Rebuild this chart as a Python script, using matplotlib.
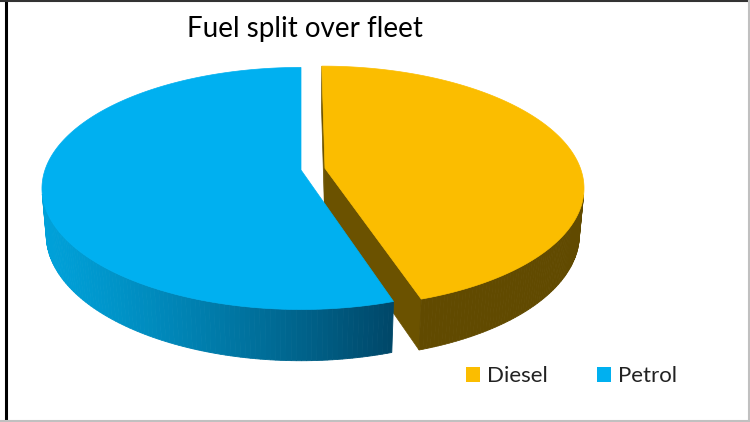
import numpy as np
import matplotlib.pyplot as plt
from matplotlib.patches import Polygon, Rectangle
from matplotlib.lines import Line2D

# chart data
labels = ["Diesel", "Petrol"]
shares = [45, 55]
top_colors = ["#FBBD00", "#00B0F0"]
side_light = [(0.42, 0.32, 0.0), (0.0, 0.63, 0.85)]
side_dark = [(0.38, 0.29, 0.0), (0.0, 0.28, 0.41)]
explode = [0.095, 0.0]

W, H = 750, 422
fig = plt.figure(figsize=(W / 100, H / 100), dpi=100)
ax = fig.add_axes([0, 0, 1, 1])
ax.set_xlim(0, W)
ax.set_ylim(H, 0)
ax.axis("off")

# simple perspective camera for the 3d pie
phi = np.radians(27.5)
D = 5.82
focal = 1490
cx, cy = 301, 170
depth_h = 0.205


def project(x, y, z):
    dy = y + D * np.cos(phi)
    dz = z - D * np.sin(phi)
    depth = dy * np.cos(phi) - dz * np.sin(phi)
    up = dy * np.sin(phi) + dz * np.cos(phi)
    return cx + focal * x / depth, cy - focal * up / depth


cam = np.array([0, -D * np.cos(phi), D * np.sin(phi)])


def facing(p, n):
    return np.dot(p - cam, n) < 0


# angles: start at 12 o'clock, clockwise
fr = np.array(shares) / np.sum(shares)
starts = 90 - 360 * np.concatenate([[0], np.cumsum(fr)[:-1]])
ends = starts - 360 * fr

slices = []
for i in range(len(labels)):
    mid = np.radians((starts[i] + ends[i]) / 2)
    ox, oy = explode[i] * np.cos(mid), explode[i] * np.sin(mid)
    th = np.radians(np.linspace(starts[i], ends[i], 200))
    slices.append((i, ox, oy, th))

# draw exploded slice first, then the rest in front of it
for i, ox, oy, th in sorted(slices, key=lambda s: -explode[s[0]]):
    # radial faces
    for t, sgn in ((th[0], 1), (th[-1], -1)):
        n = np.array([-np.sin(t), np.cos(t), 0]) * sgn
        mid_pt = np.array([ox + 0.5 * np.cos(t), oy + 0.5 * np.sin(t), -depth_h / 2])
        if facing(mid_pt, n):
            pts = [project(ox, oy, 0), project(ox + np.cos(t), oy + np.sin(t), 0),
                   project(ox + np.cos(t), oy + np.sin(t), -depth_h), project(ox, oy, -depth_h)]
            ax.add_patch(Polygon(pts, closed=True, fc=side_light[i], ec=side_light[i], lw=0.5))
    # outer side
    xs_left = project(-1, 0, 0)[0]
    for k in range(len(th) - 1):
        t = (th[k] + th[k + 1]) / 2
        n = np.array([np.cos(t), np.sin(t), 0])
        p = np.array([ox + np.cos(t), oy + np.sin(t), -depth_h / 2])
        if not facing(p, n):
            continue
        pts = [project(ox + np.cos(th[k]), oy + np.sin(th[k]), 0),
               project(ox + np.cos(th[k + 1]), oy + np.sin(th[k + 1]), 0),
               project(ox + np.cos(th[k + 1]), oy + np.sin(th[k + 1]), -depth_h),
               project(ox + np.cos(th[k]), oy + np.sin(th[k]), -depth_h)]
        px = pts[0][0]
        f = np.clip((px - xs_left) / 350, 0, 1) ** 1.2
        c = tuple(a + (b - a) * f for a, b in zip(side_light[i], side_dark[i]))
        ax.add_patch(Polygon(pts, closed=True, fc=c, ec=c, lw=0.6))
    # top
    top = [project(ox, oy, 0)] + [project(ox + np.cos(t), oy + np.sin(t), 0) for t in th]
    ax.add_patch(Polygon(top, closed=True, fc=top_colors[i], ec=top_colors[i], lw=0.5))

ax.text(305, 37, "Fuel split over fleet", ha="center", va="baseline",
        fontsize=20, family="Lato", color="#000000")

handles = [Rectangle((0, 0), 1, 1, fc=c, ec="none") for c in top_colors]
ax.legend(handles, labels, ncol=2, frameon=False, loc="center left",
          bbox_to_anchor=(0.595, 0.108), prop={"family": "Lato", "size": 16},
          handlelength=0.63, handleheight=0.63, handletextpad=0.32,
          columnspacing=2.2, labelcolor="#222222")

# chart frame
ax.add_line(Line2D([6, 6], [0, H], color="black", lw=2.2))
ax.add_line(Line2D([0, W], [1, 1], color="#333333", lw=1.5))
ax.add_line(Line2D([W - 1.5, W - 1.5], [0, H], color="#c0c0c0", lw=1.5))
ax.add_line(Line2D([0, W], [H - 1.5, H - 1.5], color="#c0c0c0", lw=1.5))

fig.savefig("out.png", dpi=100)
